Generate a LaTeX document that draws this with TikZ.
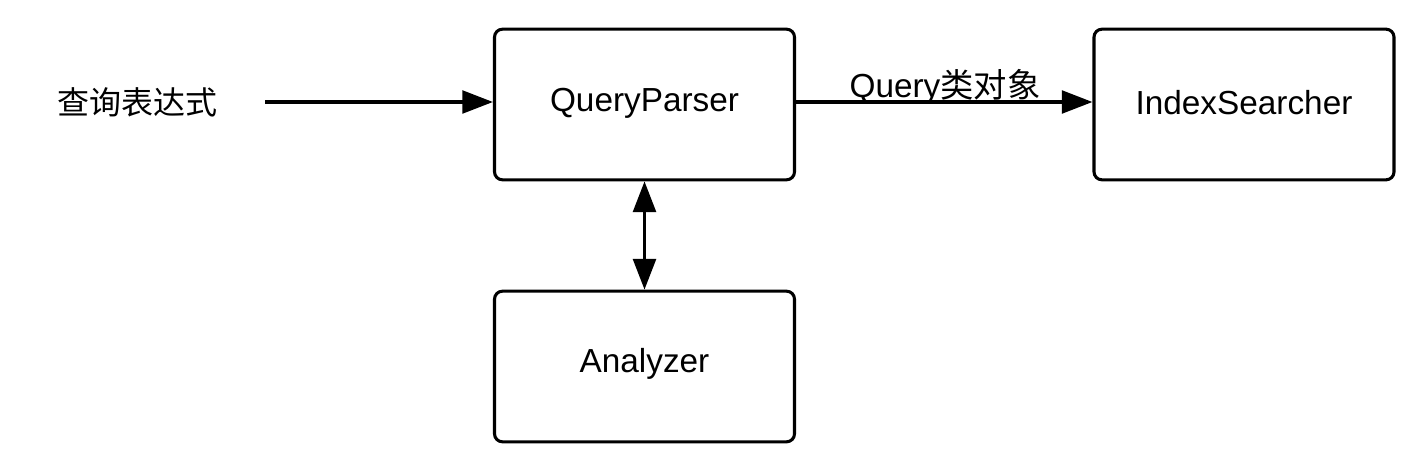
\documentclass[tikz,border=0pt]{standalone}
\usepackage{fontspec}
\setmainfont{Liberation Sans}
\newfontfamily\cjk{Noto Sans CJK SC}
\usetikzlibrary{arrows.meta}
\begin{document}
\begin{tikzpicture}[x=0.75pt,y=-0.75pt,
  box/.style={draw=black,line width=2.3pt,rounded corners=6pt,minimum width=225pt,minimum height=113pt,inner sep=0pt},
  boxtext/.style={font=\fontsize{25}{30}\selectfont,inner sep=0pt},
  conn/.style={line width=2.6pt,-{Triangle[length=23pt,width=17pt]}},
  lbl/.style={font=\fontsize{25}{30}\selectfont,inner sep=0pt}]
\useasboundingbox (0,0) rectangle (1419,456);
\node[box] (qp) at (644.5,104.5) {};
\node[box] (is) at (1244,104.5) {};
\node[box] (an) at (644.5,366.5) {};
\node[boxtext] (qpt) at (644.5,103) {QueryParser};
\node[boxtext] (ist) at (1244,103) {IndexSearcher};
\node[boxtext] (ant) at (644.5,364) {Analyzer};
\node[lbl,anchor=west] (expr) at (57,102) {\cjk\fontsize{24}{28}\selectfont 查询表达式};
\coordinate (start) at (265,102);
\draw[conn] (start) -- (qp.west |- start);
\draw[conn] (qp.east |- start) -- (is.west |- start);
\node[lbl] (ql) at (945,87) {Query{\cjk 类对象}};
\draw[line width=2.6pt,{Triangle[length=23pt,width=17pt]}-{Triangle[length=23pt,width=17pt]}] (qp.south) -- (an.north);
\end{tikzpicture}
\end{document}
